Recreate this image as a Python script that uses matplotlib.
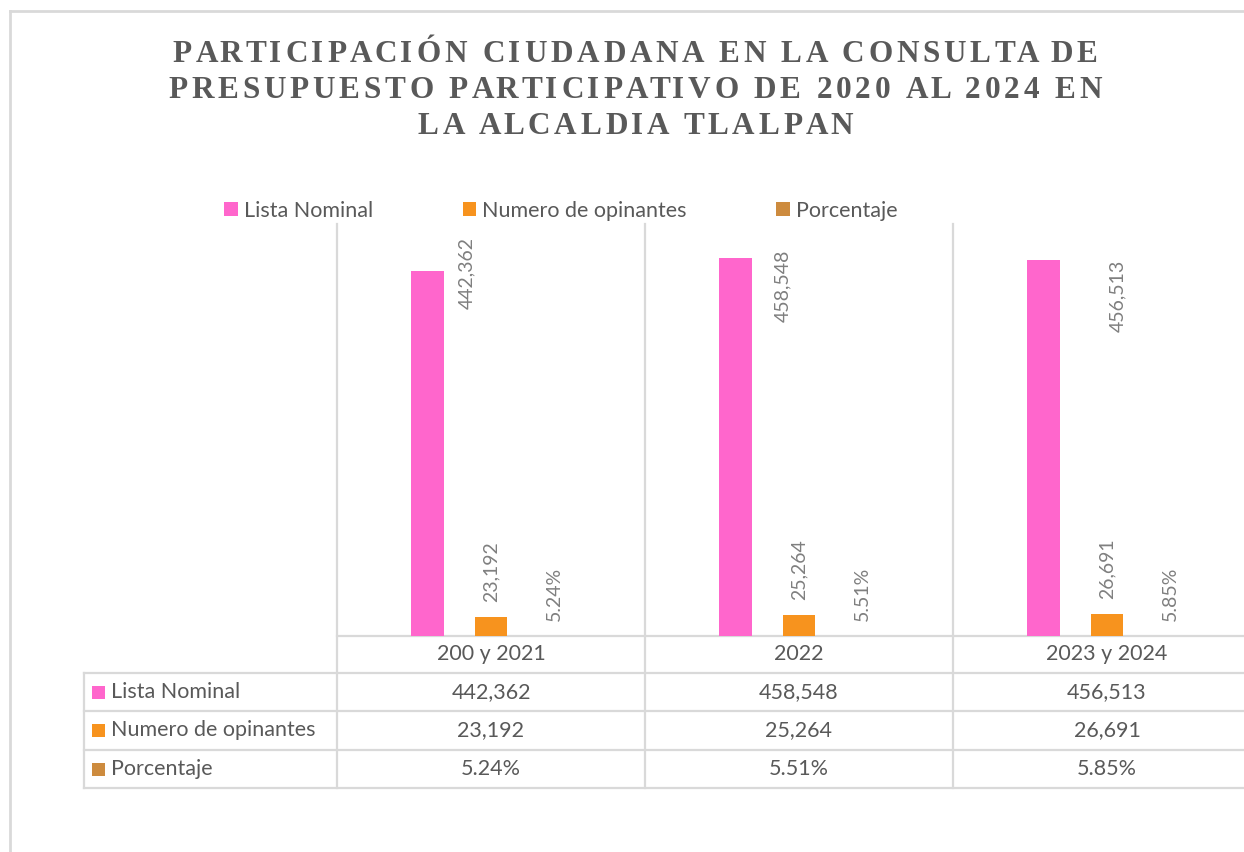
import matplotlib
matplotlib.use("Agg")
import matplotlib.pyplot as plt
import numpy as np
from matplotlib.lines import Line2D
from matplotlib.patches import Patch, Rectangle

# --- data -------------------------------------------------------------
categories = ["200 y 2021", "2022", "2023 y 2024"]
series_names = ["Lista Nominal", "Numero de opinantes", "Porcentaje"]
lista_nominal = [442362, 458548, 456513]
opinantes = [23192, 25264, 26691]
porcentaje = [0.0524, 0.0551, 0.0585]
title_lines = [
    "PARTICIPACIÓN CIUDADANA EN LA CONSULTA DE",
    "PRESUPUESTO PARTICIPATIVO DE 2020 AL 2024 EN",
    "LA ALCALDIA TLALPAN",
]

# --- style ------------------------------------------------------------
W, H = 1244, 852
COLORS = ["#FF66CC", "#F7931E", "#CD8B3E"]
GRID = "#D9D9D9"
TEXT = "#595959"
LABEL = "#7F7F7F"
FONT = ["Lato", "DejaVu Sans"]
TXT_SIZE = 15.5
BAR_W = 0.107
OFFSETS = [-0.205, 0.0, 0.205]
# pink labels were dragged by hand in the original (points from bar top)
PINK_LABEL_SHIFT = [(28, -27), (34, -46), (53, -52)]
ROW_PX = [37, 38, 39, 38]  # header row + three data rows

plt.rcParams["font.family"] = FONT


def fmt(series, v):
    if series == 2:
        return f"{v * 100:.2f}%"
    return f"{v:,.0f}"


def spaced_line(fig, xc_px, base_px, s, gap_px, **kw):
    """Centered text line with extra letter spacing (Excel title style)."""
    r = fig.canvas.get_renderer()

    def width(t):
        tt = fig.text(0, 0, t + "|", **kw)
        w = tt.get_window_extent(r).width
        tt.remove()
        return w

    bar = width("")
    adv = [width(s[:k]) - bar if k else 0.0 for k in range(len(s) + 1)]
    total = adv[-1] + gap_px * (len(s) - 1)
    x0 = xc_px - total / 2
    for k, ch in enumerate(s):
        if ch == " ":
            continue
        fig.text((x0 + adv[k] + k * gap_px) / W, (H - base_px) / H, ch,
                 ha="left", va="baseline", **kw)


fig = plt.figure(figsize=(W / 100, H / 100), dpi=100)
fig.patch.set_facecolor("white")

# plot area spans x 337..1261 px (last column is cut by the picture edge)
ax = fig.add_axes([337 / W, (H - 636) / H, 924 / W, 412 / H])
ax.set_xlim(-0.5, 2.5)
ax.set_ylim(0, 500000)
ax.axis("off")

values = [lista_nominal, opinantes, porcentaje]
x = np.arange(len(categories))
for s, vals in enumerate(values):
    bars = ax.bar(x + OFFSETS[s], vals, width=BAR_W, color=COLORS[s], zorder=3)
    for i, b in enumerate(bars):
        top = b.get_height()
        cx = b.get_x() + b.get_width() / 2
        if s == 0:
            dx, dy = PINK_LABEL_SHIFT[i]
        else:
            dx, dy = 0, 11
        ax.annotate(fmt(s, vals[i]), (cx, top), xytext=(dx, dy),
                    textcoords="offset points", rotation=90,
                    ha="center", va="bottom", fontsize=14, color=LABEL)

# table geometry in axes-y units below the baseline
px = 1 / 412
row_edges = -np.cumsum([0] + ROW_PX) * px
trans = ax.get_xaxis_transform()
left_x = -0.5 - 253 / 308
right_x = 2.5

# vertical dividers
for xv in [-0.5, 0.5, 1.5, 2.5]:
    ax.plot([xv, xv], [1, row_edges[-1]], color=GRID, lw=1.6,
            transform=trans, clip_on=False, zorder=1)
ax.plot([left_x, left_x], [row_edges[1], row_edges[-1]], color=GRID, lw=1.6,
        transform=trans, clip_on=False)

# horizontal lines
ax.plot([-0.5, right_x], [0, 0], color=GRID, lw=1.6, transform=trans, clip_on=False)
for yv in row_edges[1:]:
    ax.plot([left_x, right_x], [yv, yv], color=GRID, lw=1.6,
            transform=trans, clip_on=False)

# header row: category names
for i, c in enumerate(categories):
    ax.text(i, (row_edges[0] + row_edges[1]) / 2, c, transform=trans,
            ha="center", va="center", fontsize=TXT_SIZE, color=TEXT)

# data rows
for s, vals in enumerate(values):
    yc = (row_edges[s + 1] + row_edges[s + 2]) / 2
    ax.add_patch(Rectangle((left_x + 8 / 308, yc - 6.5 * px), 13 / 308, 13 * px,
                           transform=trans, clip_on=False,
                           facecolor=COLORS[s], edgecolor="none"))
    ax.text(left_x + 27 / 308, yc, series_names[s], transform=trans, ha="left",
            va="center", fontsize=TXT_SIZE, color=TEXT)
    for i, v in enumerate(vals):
        ax.text(i, yc, fmt(s, v), transform=trans, ha="center", va="center",
                fontsize=TXT_SIZE, color=TEXT)

# legend
handles = [Patch(facecolor=c, edgecolor="none") for c in COLORS]
fig.legend(handles, series_names, loc="center left",
           bbox_to_anchor=(205 / W, (H - 211) / H), ncol=3, frameon=False,
           fontsize=TXT_SIZE, labelcolor=TEXT, handlelength=0.62,
           handleheight=0.62, handletextpad=0.3, columnspacing=4.15)

# title
for line, base in zip(title_lines, [62, 98, 134]):
    spaced_line(fig, 635, base, line, 3.8, fontsize=22.5, fontweight="bold",
                family="Liberation Serif", color=TEXT)

# chart area border (cut off at right and bottom)
fig.add_artist(Line2D([10 / W, 10 / W], [0, (H - 11) / H], color=GRID, lw=2))
fig.add_artist(Line2D([10 / W, 1], [(H - 11) / H, (H - 11) / H], color=GRID, lw=2))

fig.savefig("out.png", dpi=100, facecolor="white")
